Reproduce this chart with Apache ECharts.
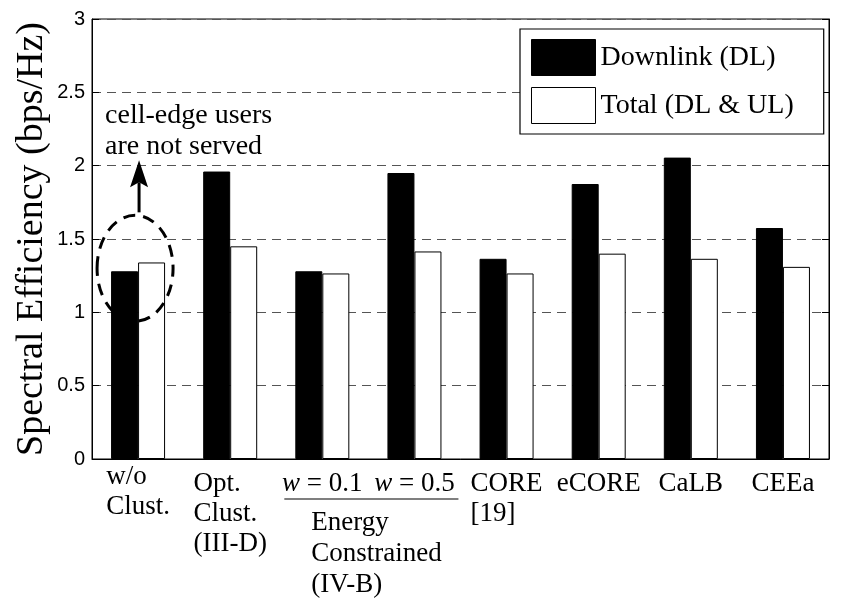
<!DOCTYPE html>
<html>
<head>
<meta charset="utf-8">
<script src="https://cdn.jsdelivr.net/npm/echarts@6/dist/echarts.min.js"></script>
<style>html,body{margin:0;padding:0;background:#fff}#c{width:850px;height:610px}</style>
</head>
<body>
<div id="c"></div>
<script>
const categories = ['w/o\nClust.', 'Opt.\nClust.\n(III-D)', 'w = 0.1', 'w = 0.5', 'CORE\n[19]', 'eCORE', 'CaLB', 'CEEa'];
const downlink = [1.28, 1.96, 1.28, 1.95, 1.365, 1.875, 2.055, 1.575];
const total = [1.34, 1.45, 1.265, 1.415, 1.265, 1.40, 1.365, 1.31];
const seriesNames = ['Downlink (DL)', 'Total (DL & UL)'];
const yAxisTitle = 'Spectral Efficiency (bps/Hz)';
const annotationText = 'cell-edge users\nare not served';
const groupText = 'Energy\nConstrained\n(IV-B)';

const SERIF = '"Liberation Serif", "Times New Roman", serif';
const SANS = '"Liberation Sans", Arial, Helvetica, sans-serif';

const chart = echarts.init(document.getElementById('c'), null, {renderer: 'canvas'});

const xData = categories.map((c, i) => i === 0
  ? {value: c, textStyle: {padding: [0, 0, 0, 0]}}
  : {value: c});

const tokenBase = {fontFamily: SERIF, fontSize: 27, lineHeight: 30, color: '#000', align: 'left'};

chart.setOption({
  animation: false,
  backgroundColor: '#fff',
  grid: {left: 92, right: 21, top: 19, bottom: 151, show: true, borderColor: '#000', borderWidth: 1, backgroundColor: 'transparent'},
  legend: {
    orient: 'vertical', left: 520, top: 29,
    padding: [10, 30, 10, 11],
    itemWidth: 64, itemHeight: 36, itemGap: 11,
    backgroundColor: '#fff', borderColor: '#000', borderWidth: 1.2,
    textStyle: {fontFamily: SERIF, fontSize: 28, color: '#000'},
    data: [
      {name: seriesNames[0], icon: 'rect', itemStyle: {color: '#000', borderColor: '#000', borderWidth: 1}},
      {name: seriesNames[1], icon: 'rect', itemStyle: {color: '#fff', borderColor: '#000', borderWidth: 1}}
    ]
  },
  xAxis: {
    type: 'category', data: xData,
    axisLine: {show: true, lineStyle: {color: '#000', width: 1}},
    axisTick: {show: false},
    splitLine: {show: false},
    axisLabel: {
      interval: 0, hideOverlap: false, margin: 3, padding: [7, 0, 0, 0],
      fontFamily: SERIF, fontSize: 27, color: '#000', lineHeight: 30,
      formatter: function (v) {
        if (v.indexOf('w = ') === 0) {
          return '{i|w}{l|' + v.slice(1) + '}';
        }
        return v.split('\n').map(s => '{l|' + s + '}').join('\n');
      },
      rich: {
        l: Object.assign({}, tokenBase),
        i: Object.assign({}, tokenBase, {fontStyle: 'italic'})
      }
    }
  },
  yAxis: [{
    type: 'value', min: 0, max: 3, interval: 0.5,
    name: yAxisTitle, nameLocation: 'middle', nameRotate: 90, nameGap: 41,
    nameMoveOverlap: false,
    nameTextStyle: {fontFamily: SERIF, fontSize: 38, color: '#000'},
    axisLine: {show: true, lineStyle: {color: '#000'}},
    axisTick: {show: true, inside: true, length: 7, lineStyle: {color: '#000'}},
    axisLabel: {fontFamily: SANS, fontSize: 20, color: '#000', margin: 7},
    splitLine: {show: true, lineStyle: {color: '#555', width: 1, type: [9, 6]}}
  }, {
    type: 'value', min: 0, max: 3, interval: 0.5, position: 'right',
    axisLine: {show: true, lineStyle: {color: '#000'}},
    axisTick: {show: true, inside: true, length: 7, lineStyle: {color: '#000'}},
    axisLabel: {show: false},
    splitLine: {show: false}
  }],
  series: [{
    name: seriesNames[0], type: 'bar', data: downlink,
    barWidth: 27, barGap: '0%',
    itemStyle: {color: '#000', borderColor: '#000', borderWidth: 1}
  }, {
    name: seriesNames[1], type: 'bar', data: total,
    barWidth: 27, barGap: '0%',
    itemStyle: {color: '#fff', borderColor: '#000', borderWidth: 1}
  }]
});

function px(cat) { return chart.convertToPixel({xAxisIndex: 0}, cat); }
function py(val) { return chart.convertToPixel({yAxisIndex: 0}, val); }

const x0 = px(categories[0]);
const x2 = px(categories[2]);
const x3 = px(categories[3]);
const yBase = py(0);
const cy = py(1.3);
const rx = 38, ry = 53;
const ecx = x0 - 3;
const arrowX = x0 + 1;

chart.setOption({
  graphic: [
    {type: 'ellipse', shape: {cx: ecx, cy: cy, rx: rx, ry: ry},
     style: {fill: null, stroke: '#000', lineWidth: 3, lineDash: [12, 8]}, z: 100},
    {type: 'line', shape: {x1: arrowX, y1: cy - ry - 3, x2: arrowX, y2: cy - ry - 33},
     style: {stroke: '#000', lineWidth: 3}, z: 100},
    {type: 'polygon', shape: {points: [[arrowX - 9, cy - ry - 28], [arrowX, cy - ry - 55], [arrowX + 9, cy - ry - 28], [arrowX, cy - ry - 33]]},
     style: {fill: '#000'}, z: 100},
    {type: 'text', x: x0 - 33, y: py(2.5) + 8,
     style: {text: annotationText, font: '28px ' + SERIF, fill: '#000', lineHeight: 31, textVerticalAlign: 'top'}, z: 100},
    {type: 'line', shape: {x1: x2 - 38, y1: yBase + 40, x2: x3 + 44, y2: yBase + 40},
     style: {stroke: '#000', lineWidth: 1.2}, z: 100},
    {type: 'text', x: x2 - 11, y: yBase + 48,
     style: {text: groupText, font: '27px ' + SERIF, fill: '#000', lineHeight: 31, textVerticalAlign: 'top'}, z: 100}
  ]
});
</script>
</body>
</html>
